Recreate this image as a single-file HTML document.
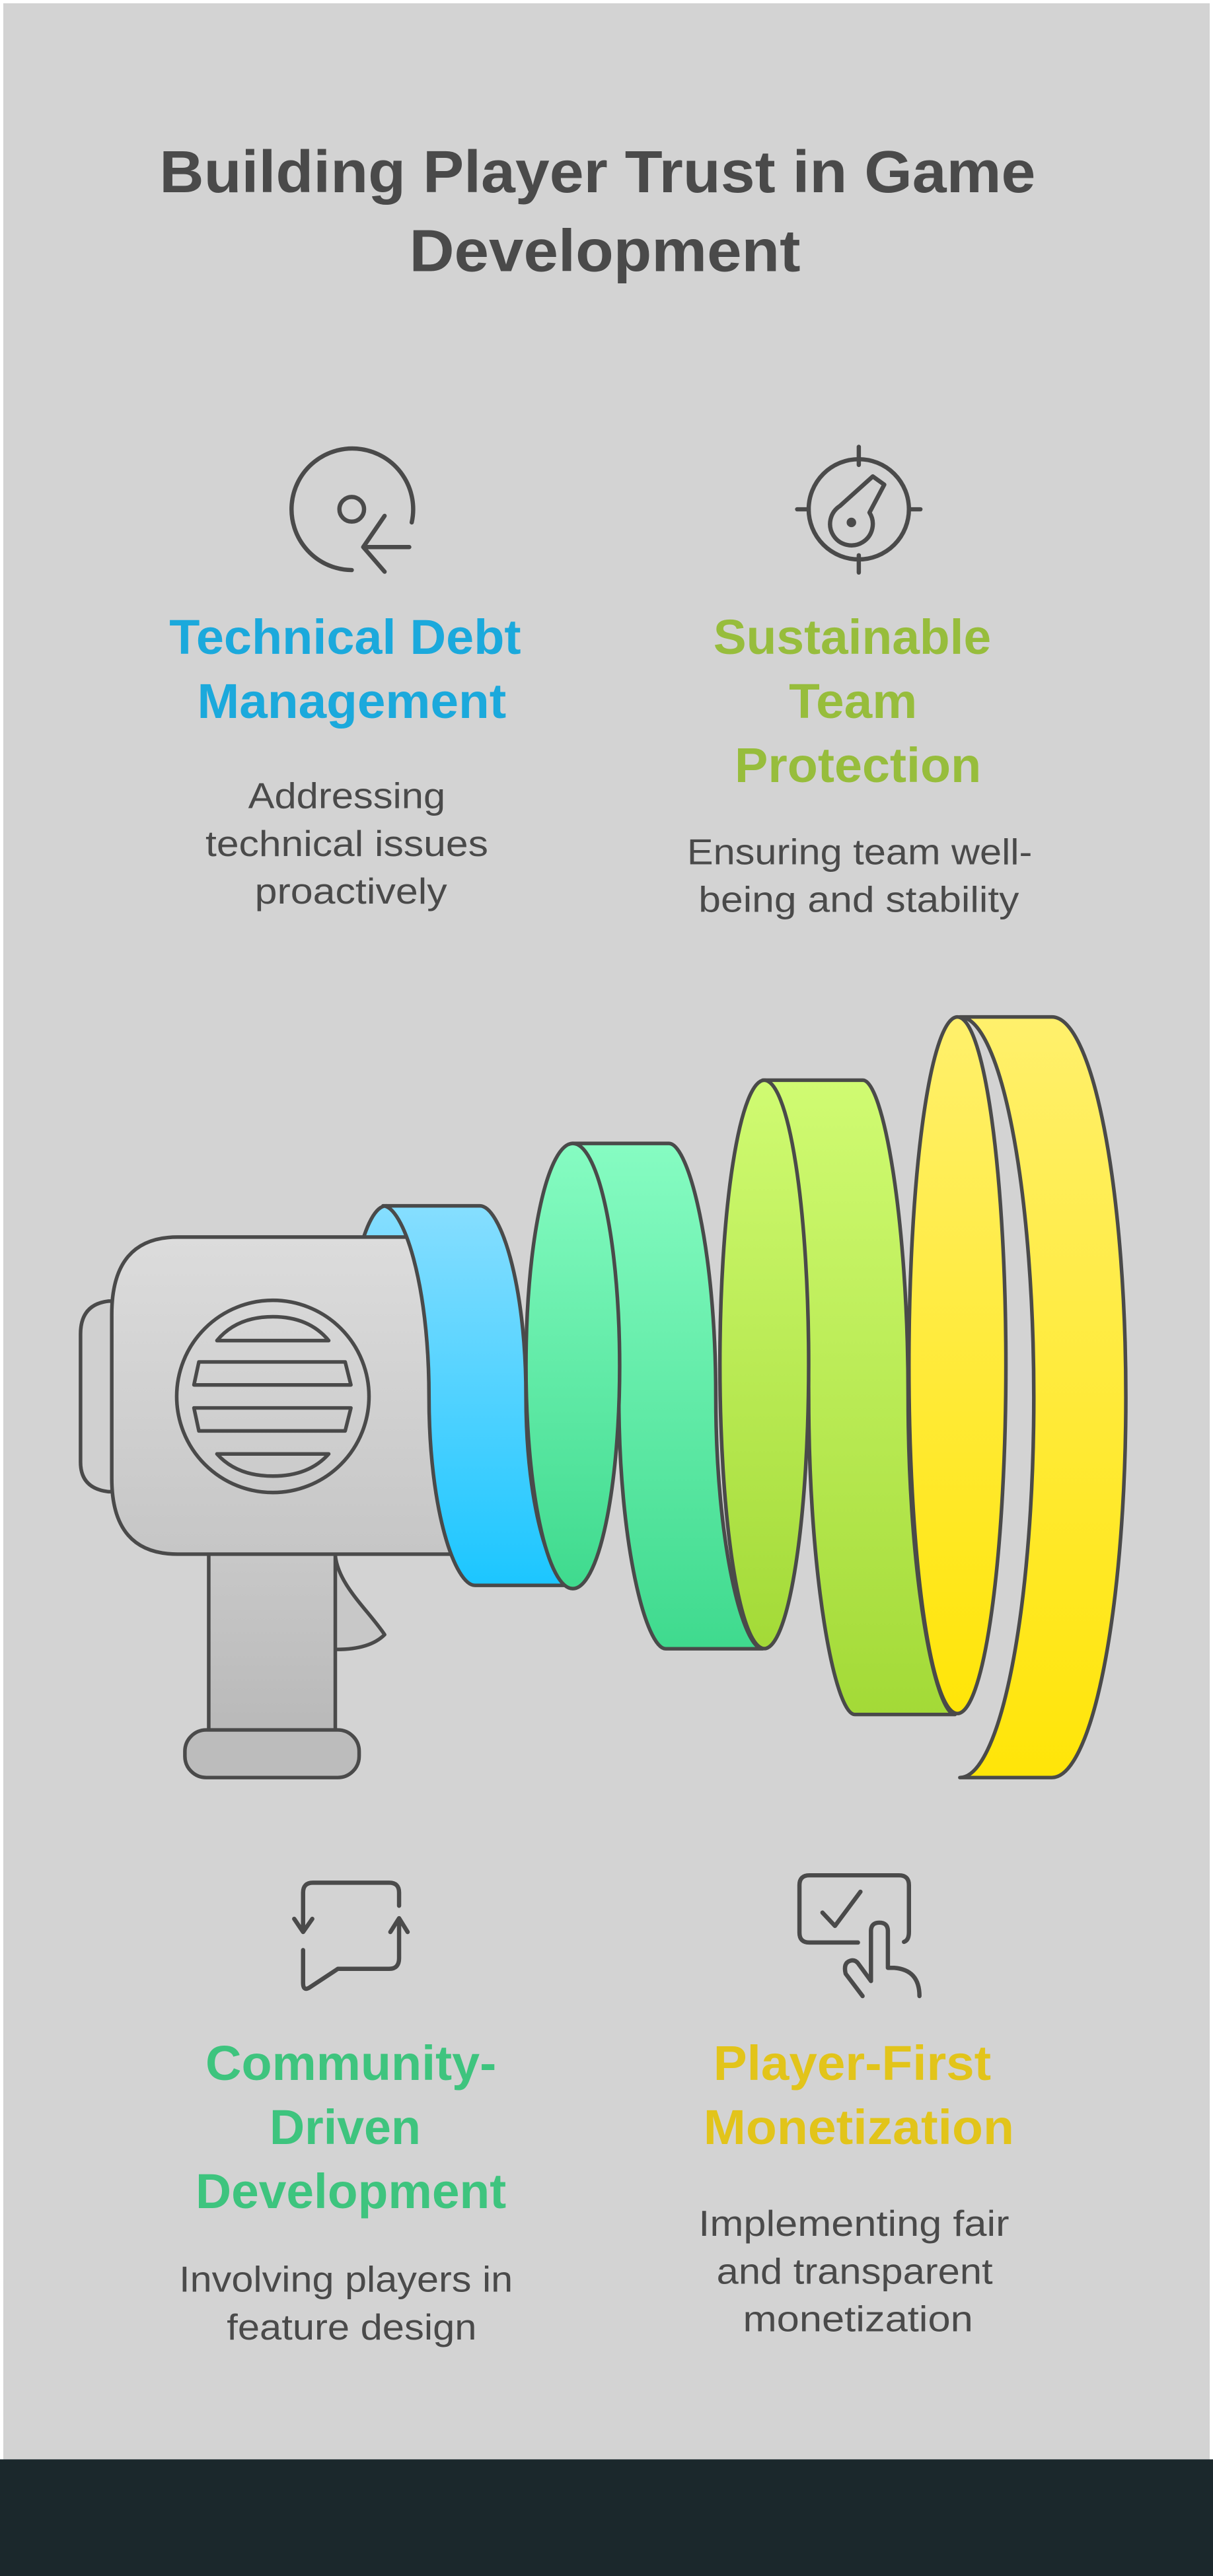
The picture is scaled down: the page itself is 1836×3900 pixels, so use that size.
<!DOCTYPE html>
<html><head><meta charset="utf-8"><style>
html,body{margin:0;padding:0;background:#fff}
svg{display:block}
text{font-family:"Liberation Sans",sans-serif}
</style></head><body>
<svg width="1836" height="3900" viewBox="0 0 738 1568" preserveAspectRatio="none" xmlns="http://www.w3.org/2000/svg">
<defs>
<linearGradient id="gb" x1="0" y1="0" x2="0" y2="1"><stop offset="0" stop-color="#86deff"/><stop offset="1" stop-color="#1cc6ff"/></linearGradient>
<linearGradient id="gg" x1="0" y1="0" x2="0" y2="1"><stop offset="0" stop-color="#86fcc2"/><stop offset="1" stop-color="#3fda8e"/></linearGradient>
<linearGradient id="gl" x1="0" y1="0" x2="0" y2="1"><stop offset="0" stop-color="#d0fb72"/><stop offset="1" stop-color="#a3da37"/></linearGradient>
<linearGradient id="gy" x1="0" y1="0" x2="0" y2="1"><stop offset="0" stop-color="#fff06c"/><stop offset="1" stop-color="#ffe508"/></linearGradient>
<linearGradient id="gbody" x1="0" y1="0" x2="0" y2="1"><stop offset="0" stop-color="#dcdcdc"/><stop offset="1" stop-color="#c6c6c6"/></linearGradient>
<linearGradient id="ghand" x1="0" y1="0" x2="0" y2="1"><stop offset="0" stop-color="#c9c9c9"/><stop offset="1" stop-color="#b9b9b9"/></linearGradient>
<clipPath id="ctop"><rect x="0" y="600" width="738" height="170"/></clipPath>
</defs>
<rect x="0" y="0" width="738" height="1568" fill="#ffffff"/>
<rect x="2" y="2" width="734" height="1496" fill="#d3d3d3"/>
<rect x="0" y="1497" width="738" height="71" fill="#1b282c"/>

<g fill="#4a4a4a" font-weight="bold" font-size="36" text-anchor="middle">
<text x="363.5" y="117" textLength="533" lengthAdjust="spacingAndGlyphs">Building Player Trust in Game</text>
<text x="368" y="165" textLength="238" lengthAdjust="spacingAndGlyphs">Development</text>
</g>

<g font-weight="bold" font-size="30" text-anchor="middle">
<text x="210" y="398" fill="#1ba9dc" textLength="214" lengthAdjust="spacingAndGlyphs">Technical Debt</text>
<text x="214" y="437" fill="#1ba9dc" textLength="188" lengthAdjust="spacingAndGlyphs">Management</text>
<text x="518.5" y="398" fill="#97bd3c" textLength="169" lengthAdjust="spacingAndGlyphs">Sustainable</text>
<text x="519" y="437" fill="#97bd3c" textLength="78" lengthAdjust="spacingAndGlyphs">Team</text>
<text x="522" y="476" fill="#97bd3c" textLength="150" lengthAdjust="spacingAndGlyphs">Protection</text>
<text x="213.5" y="1266" fill="#3ec47e" textLength="177" lengthAdjust="spacingAndGlyphs">Community-</text>
<text x="210" y="1305" fill="#3ec47e" textLength="92" lengthAdjust="spacingAndGlyphs">Driven</text>
<text x="213.5" y="1344" fill="#3ec47e" textLength="189" lengthAdjust="spacingAndGlyphs">Development</text>
<text x="518.5" y="1266" fill="#e2c41a" textLength="169" lengthAdjust="spacingAndGlyphs">Player-First</text>
<text x="522.5" y="1305" fill="#e2c41a" textLength="189" lengthAdjust="spacingAndGlyphs">Monetization</text>
</g>

<g fill="#4a4a4a" font-size="22" text-anchor="middle">
<text x="211" y="492" textLength="120" lengthAdjust="spacingAndGlyphs">Addressing</text>
<text x="211" y="521" textLength="172" lengthAdjust="spacingAndGlyphs">technical issues</text>
<text x="213.5" y="550" textLength="117" lengthAdjust="spacingAndGlyphs">proactively</text>
<text x="523" y="526" textLength="210" lengthAdjust="spacingAndGlyphs">Ensuring team well-</text>
<text x="522.5" y="555" textLength="195" lengthAdjust="spacingAndGlyphs">being and stability</text>
<text x="210.5" y="1395" textLength="203" lengthAdjust="spacingAndGlyphs">Involving players in</text>
<text x="214" y="1424" textLength="152" lengthAdjust="spacingAndGlyphs">feature design</text>
<text x="519.5" y="1361" textLength="189" lengthAdjust="spacingAndGlyphs">Implementing fair</text>
<text x="520" y="1390" textLength="168" lengthAdjust="spacingAndGlyphs">and transparent</text>
<text x="522" y="1419" textLength="140" lengthAdjust="spacingAndGlyphs">monetization</text>
</g>

<!-- icons -->
<g fill="none" stroke="#4a4a4a" stroke-width="2.6" stroke-linecap="round" stroke-linejoin="round">
<path d="M214,347 A37,37 0 1,1 250.5,318"/>
<circle cx="214" cy="310" r="7.5"/>
<path d="M249,333 L221,333 M234,314 L221,333 L234,348"/>
<circle cx="522.5" cy="310" r="30.5"/>
<path d="M522.5,272 V283 M522.5,338 V348.5 M485,310 H492 M553,310 H560"/>
<path d="M511,308 L531,290 L538,295 L529,312 A13,13 0 1,1 511,308 Z"/>
<circle cx="518" cy="318" r="1.6" fill="#4a4a4a"/>
<path d="M184.4,1174 V1152 Q184.4,1146 190.4,1146 H236.8 Q242.8,1146 242.8,1152 V1160"/>
<path d="M179,1168 L184.4,1176 L190,1168"/>
<path d="M237.5,1176 L242.8,1167.6 L248,1176 M242.8,1169 V1192 Q242.8,1198.4 236.8,1198.4 H205.6 L188,1210 Q184.4,1212 184.4,1207 V1187"/>
<path d="M522,1182.4 H492.4 Q486.4,1182.4 486.4,1176.4 V1147.5 Q486.4,1141.5 492.4,1141.5 H547 Q553,1141.5 553,1147.5 V1176 Q553,1181 550,1182"/>
<path d="M500.4,1164.2 L508,1172.3 L523.5,1151.5"/>
<path d="M529.9,1205.8 V1175.5 Q529.9,1170.3 535,1170.3 Q540.2,1170.3 540.2,1175.5 V1197.8 H544 Q559.4,1199 559.4,1215"/>
<path d="M524.8,1215 L514.5,1201.4 Q513,1195 517,1193.6 Q520,1192.5 522,1195 L529.9,1205.8"/>
</g>

<!-- megaphone -->
<g stroke="#4a4a4a" stroke-width="2.2" stroke-linejoin="round">
<ellipse cx="235" cy="850" rx="25" ry="116" fill="url(#gb)" clip-path="url(#ctop)"/>
<path d="M70,792 H66 Q49,794 49,812 V890 Q49,906 66,908 H70 Z" fill="#d0d0d0"/>
<path d="M204,947 C206,965 224,980 234,995 C228,1001 218,1004 205,1004" fill="#c8c8c8"/>
<rect x="127" y="940" width="77" height="114" fill="url(#ghand)"/>
<rect x="112.5" y="1053" width="106" height="29" rx="13" fill="#bcbcbc"/>
<path d="M108,753 H290 V946 H108 Q68,946 68,900 V800 Q68,753 108,753 Z" fill="url(#gbody)"/>
<circle cx="166" cy="850" r="58.5" fill="none"/>
<path d="M132,816 H200 Q188,801.5 166,801.5 Q144,801.5 132,816 Z" fill="none"/>
<path d="M121,829 H210 L213.5,843 H118 Z" fill="none"/>
<path d="M118,857 H213.5 L210,871 H121 Z" fill="none"/>
<path d="M132,885 H200 Q188,898.5 166,898.5 Q144,898.5 132,885 Z" fill="none"/>
<path d="M233,734 L292,734 C304,734 320,780 320,850 S336,965 348,965 L289,965 C277,965 261,920 261,850 S245,734 233,734 Z" fill="url(#gb)"/>
<path d="M348,696 L407,696 C419,696 435.5,760 435.5,850 S452,1003.6 464,1003.6 L405,1003.6 C393,1003.6 376.5,940 376.5,850 S360,696 348,696 Z" fill="url(#gg)"/>
<ellipse cx="348.5" cy="831.5" rx="28.5" ry="135.5" fill="url(#gg)"/>
<path d="M464,657.5 L525,657.5 C537,657.5 552.5,740 552.5,850 S569,1043.6 581,1043.6 L520,1043.6 C508,1043.6 492,960 492,850 S476,657.5 464,657.5 Z" fill="url(#gl)"/>
<ellipse cx="465" cy="830.5" rx="27" ry="173" fill="url(#gl)"/>
<path d="M584,619 L640,619 A45,231.5 0 0,1 640,1082 L584,1082 A45,231.5 0 0,0 584,619 Z" fill="url(#gy)"/>
<ellipse cx="582.5" cy="831" rx="29.5" ry="212" fill="url(#gy)"/>
</g>
</svg>
</body></html>
